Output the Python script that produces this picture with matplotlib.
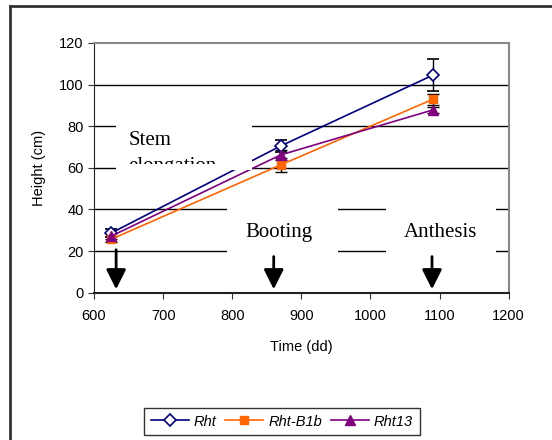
import matplotlib
matplotlib.use('agg')
import matplotlib.pyplot as plt
from matplotlib.patches import Rectangle
from matplotlib.lines import Line2D
from matplotlib.transforms import Bbox, TransformedBbox

# data
time_dd = [625, 870, 1090]
rht = [28.7, 70.5, 104.5]
rht_b1b = [25.7, 61.4, 92.9]
rht13 = [27.2, 66.2, 87.8]
err_rht = [2.0, 3.0, 7.8]
err_b1b = [1.5, 3.3, 2.5]
err_13 = [1.5, 2.5, 1.5]
stage_x = [632, 860, 1089]

plt.rcParams['font.family'] = 'Liberation Sans'

fig = plt.figure(figsize=(5.52, 4.4), dpi=100)
ax = fig.add_axes([0.1703, 0.3348, 0.7513, 0.5675])

# outer chart frame (runs off the image right/bottom)
fig.add_artist(Line2D([10/552, 10/552], [0, 1 - 6/440], color='#333333', lw=2))
fig.add_artist(Line2D([10/552, 1], [1 - 6/440, 1 - 6/440], color='#333333', lw=2))

for y in [20, 40, 60, 80, 100]:
    ax.axhline(y, color='black', lw=1, zorder=1)

colors = ['#000080', '#FF6600', '#800080']
ax.errorbar(time_dd, rht, yerr=err_rht, color=colors[0], marker='D', ms=6,
            mfc='white', mec=colors[0], mew=1.2, lw=1.2, ecolor='black',
            elinewidth=1, capsize=4, capthick=1, zorder=3)
ax.errorbar(time_dd, rht_b1b, yerr=err_b1b, color=colors[1], marker='s', ms=6,
            lw=1.2, ecolor='black', elinewidth=1, capsize=4, capthick=1, zorder=3)
ax.errorbar(time_dd, rht13, yerr=err_13, color=colors[2], marker='^', ms=7,
            lw=1.2, ecolor='black', elinewidth=1, capsize=4, capthick=1, zorder=3)

# white text boxes covering grid
ax.add_patch(Rectangle((632, 59.2), 196, 24.8, facecolor='white', edgecolor='none', zorder=4))
ax.add_patch(Rectangle((792, 19.1), 161, 24, facecolor='white', edgecolor='none', zorder=4))
ax.add_patch(Rectangle((1022, 19.1), 160, 24, facecolor='white', edgecolor='none', zorder=4))

ax.text(650, 71.0, 'Stem', family='Liberation Serif', fontsize=15,
        va='baseline', ha='left', zorder=5)
t = ax.text(650, 58.6, 'elongation', family='Liberation Serif', fontsize=15,
            va='baseline', ha='left', zorder=5, clip_on=True)
t.set_clip_path(None)
t.set_clip_box(TransformedBbox(Bbox([[632, 62.0], [828, 84]]), ax.transData))
ax.text(868, 28.8, 'Booting', family='Liberation Serif', fontsize=15,
        ha='center', va='center', zorder=5)
ax.text(1101, 28.8, 'Anthesis', family='Liberation Serif', fontsize=15,
        ha='center', va='center', zorder=5)

for i, x in enumerate(stage_x):
    top = 22 if i == 0 else 18.7
    ax.annotate('', xy=(x, 0.3), xytext=(x, top),
                arrowprops=dict(arrowstyle='-|>,head_length=1.2,head_width=0.6',
                                color='black', lw=2), zorder=6)

ax.set_xlim(600, 1200)
ax.set_ylim(0, 120)
ax.set_xticks(range(600, 1201, 100))
ax.set_yticks(range(0, 121, 20))
ax.tick_params(labelsize=10.5, direction='out', length=4, color='#333333')
ax.tick_params(axis='x', pad=8)
ax.spines['left'].set_color('#222222')
ax.spines['bottom'].set_color('#222222')
ax.spines['bottom'].set_linewidth(1.5)
ax.spines['top'].set_color('#888888')
ax.spines['right'].set_color('#888888')
ax.spines['top'].set_linewidth(1.5)
ax.spines['right'].set_linewidth(1.5)

ax.set_ylabel('Height (cm)', fontsize=10.5, labelpad=9)
ax.set_xlabel('Time (dd)', fontsize=10.5, labelpad=12)

handles = [
    Line2D([], [], color=colors[0], marker='D', ms=6, mfc='white', mec=colors[0], mew=1.2, lw=1.2),
    Line2D([], [], color=colors[1], marker='s', ms=6, lw=1.2),
    Line2D([], [], color=colors[2], marker='^', ms=7, lw=1.2),
]
labels = ['Rht', 'Rht-B1b', 'Rht13']
leg = fig.legend(handles, labels, loc='center', bbox_to_anchor=(282/552, 1 - 421.5/440),
                 ncol=3, frameon=True, fancybox=False, edgecolor='black',
                 prop={'style': 'italic', 'size': 10.5}, handlelength=2.6,
                 columnspacing=0.6, handletextpad=0.35, borderpad=0.45,
                 borderaxespad=0)
leg.get_frame().set_linewidth(1)

fig.savefig('out.png', dpi=100)
